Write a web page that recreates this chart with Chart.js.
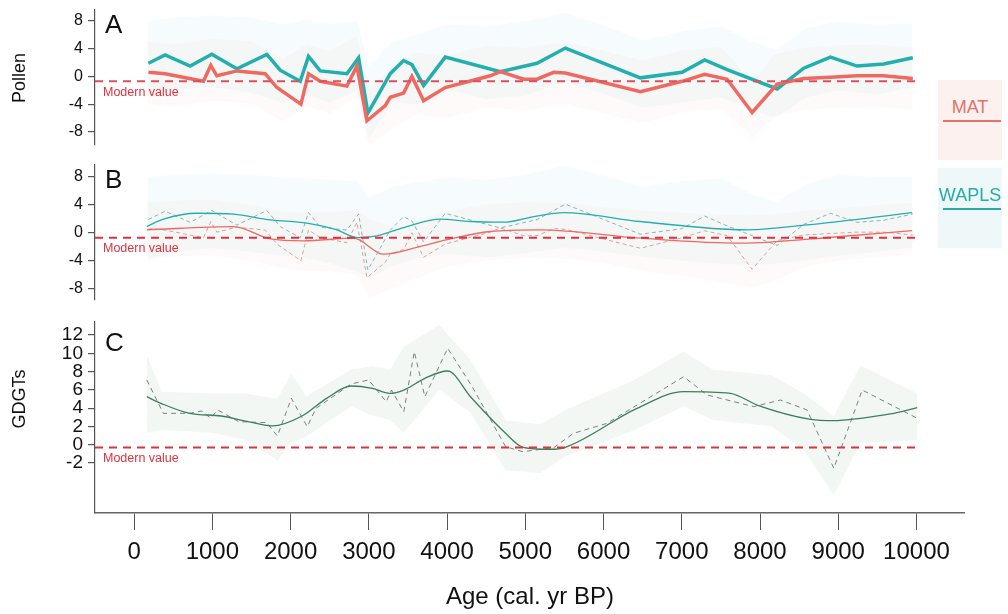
<!DOCTYPE html>
<html>
<head>
<meta charset="utf-8">
<script src="https://cdn.jsdelivr.net/npm/chart.js@4.4.1/dist/chart.umd.min.js"></script>
<style>
  body { margin: 0; background: #fff; width: 1008px; height: 614px; position: relative; overflow: hidden;
         font-family: "Liberation Sans", Arial, sans-serif; }
  .panel { position: absolute; left: 0; width: 965px; }
  .key { position: absolute; left: 938px; width: 64px; height: 80px; }
  .key .lbl { position: absolute; left: 0; right: 0; top: 17px; font-size: 18px; line-height: 20px; text-align: center; }
  .key .bar { position: absolute; left: 5px; right: 1px; top: 40px; height: 1.5px; }
</style>
</head>
<body>
<div class="panel" style="top:0;height:150px"><canvas id="chartA"></canvas></div>
<div class="panel" style="top:155px;height:150px"><canvas id="chartB"></canvas></div>
<div class="panel" style="top:310px;height:304px"><canvas id="chartC"></canvas></div>

<div class="key" style="top:80px;background:#fcf1ef;color:#e2726b">
  <div class="lbl">MAT</div><div class="bar" style="background:#e2726b"></div>
</div>
<div class="key" style="top:168px;background:#eff8f9;color:#27aaa8">
  <div class="lbl">WAPLS</div><div class="bar" style="background:#27aaa8"></div>
</div>

<script>
// x axis (age, cal. yr BP)
const xTicks = [0, 1000, 2000, 3000, 4000, 5000, 6000, 7000, 8000, 9000, 10000];

// Panel A - pollen reconstructions (raw)
const waplsAges = [183, 396, 716, 993, 1313, 1697, 1867, 2123, 2229, 2379, 2720, 2869, 2988, 3274, 3444, 3551,
                   3700, 3977, 4680, 5150, 5512, 6471, 7004, 7293, 7579, 8219, 8559, 8900, 9241, 9582, 9953];
const waplsVals = [1.9, 3.1, 1.5, 3.2, 1.1, 3.2, 0.9, -0.7, 2.9, 0.8, 0.4, 2.7, -5.3, 0.4, 2.3, 1.7,
                   -1.3, 2.8, 0.7, 1.9, 4.1, -0.2, 0.6, 2.4, 1.0, -1.8, 1.2, 2.8, 1.5, 1.8, 2.7];
const matAges = [183, 396, 886, 980, 1057, 1313, 1675, 1825, 2132, 2229, 2379, 2720, 2848, 2976, 3210, 3274,
                 3444, 3551, 3700, 3977, 4552, 4680, 4979, 5150, 5362, 5512, 6471, 7004, 7293, 7579, 7899,
                 8219, 8559, 8900, 9241, 9582, 9953];
const matVals = [0.6, 0.4, -0.7, 1.6, 0.1, 0.8, 0.4, -1.6, -4.0, 0.4, -0.7, -1.4, 1.5, -6.4, -4.2, -3.0,
                 -2.4, 0.0, -3.5, -1.6, 0.1, 0.7, -0.4, -0.4, 0.6, 0.5, -2.2, -0.7, 0.3, -0.4, -5.2,
                 -1.1, -0.3, -0.1, 0.1, 0.1, -0.3];

// uncertainty bands, panels A and B
const bandAges = [170, 500, 1000, 1500, 1900, 2200, 2500, 2850, 3000, 3300, 3600, 4000, 4500,
                  5000, 5500, 6000, 6500, 7000, 7500, 7900, 8200, 8600, 9000, 9500, 9950];
const waplsHiA = [8.0, 8.5, 8.8, 8.5, 7.5, 8.2, 7.6, 8.0, 1.5, 5.0, 6.0, 7.5, 7.2,
                  8.0, 9.2, 7.4, 5.2, 6.5, 7.2, 5.0, 3.9, 7.0, 7.9, 7.5, 7.7];
const waplsLoA = [-2.8, -2.0, -1.5, -2.4, -3.8, -2.6, -3.8, -2.0, -9.0, -3.7, -4.0, -1.8, -3.3,
                  -2.8, -0.8, -2.5, -4.5, -3.8, -3.0, -4.8, -6.0, -3.0, -2.0, -2.6, -1.6];
const matHiA = [5.1, 4.6, 5.5, 5.1, 2.5, 4.7, 3.6, 6.0, -1.8, 1.5, 3.5, 3.0, 4.5,
                4.1, 5.0, 3.7, 2.3, 3.8, 4.3, -0.7, 3.3, 4.2, 4.5, 4.6, 4.2];
const matLoA = [-3.9, -4.4, -3.5, -3.9, -6.5, -4.3, -5.4, -3.0, -10.0, -7.5, -5.5, -6.0, -4.5,
                -4.9, -4.0, -5.3, -6.7, -5.2, -4.7, -8.8, -5.7, -4.8, -4.5, -4.4, -4.8];

// Panel B - smoothed pollen reconstructions
const waplsSmoothAges = [162, 375, 801, 1270, 1739, 2208, 2592, 2848, 3103, 3487, 3913, 4297, 4723, 5107,
                         5490, 6471, 7835, 8602, 9945];
const waplsSmoothVals = [0.9, 1.95, 2.8, 2.67, 1.86, 1.38, 0.43, -0.67, -0.43, 0.9, 1.95, 1.62, 1.52, 2.33,
                         2.9, 1.62, 0.43, 1.14, 2.9];
const matSmoothAges = [162, 1270, 1739, 2165, 2805, 3188, 3657, 4041, 4552, 5192, 6471, 7750, 9028, 9945];
const matSmoothVals = [0.43, 0.9, -0.86, -1.14, -0.76, -3.05, -1.95, -0.86, 0.19, 0.43, -0.76, -1.48, -0.52, 0.33];
const waplsHiB = [8.0, 8.3, 8.5, 8.3, 7.9, 7.8, 7.6, 7.4, 5.0, 6.6, 7.2, 8.0, 7.6,
                  8.3, 9.6, 8.2, 6.6, 7.4, 7.8, 5.5, 4.4, 7.0, 8.3, 8.0, 8.0];
const waplsLoB = [-4.1, -2.7, -2.2, -2.7, -3.3, -3.6, -4.3, -5.6, -6.5, -4.7, -3.7, -3.0, -3.5,
                  -2.9, -2.1, -2.7, -3.4, -4.0, -4.4, -4.6, -4.4, -3.9, -3.3, -2.7, -2.1];
const matHiB = [4.4, 4.6, 4.8, 4.0, 3.0, 2.9, 3.0, 3.2, 2.0, 1.0, 1.8, 3.1, 4.1,
                4.4, 4.3, 3.7, 3.2, 2.9, 2.6, 2.5, 2.7, 3.2, 3.5, 4.0, 4.3];
const matLoB = [-3.6, -3.4, -3.2, -4.0, -5.0, -5.5, -5.5, -6.0, -9.3, -8.0, -6.5, -4.9, -3.9,
                -3.6, -3.7, -4.3, -5.5, -6.2, -7.0, -7.9, -6.8, -4.8, -4.0, -3.5, -3.1];

// Panel C - GDGTs
const gdgtAges = [162, 350, 710, 1113, 1427, 1765, 2146, 2460, 2774, 3043, 3268, 3447, 3716, 4008, 4299,
                  4748, 4972, 5320, 5512, 6428, 7024, 7621, 7963, 8645, 8943, 9284, 9668, 10009];
const gdgtSmooth = [5.25, 4.5, 3.43, 3.14, 2.59, 2.05, 3.14, 5.07, 6.42, 6.17, 5.62, 5.98, 7.26, 8.06, 5.25,
                    1.25, -0.28, -0.5, -0.28, 3.98, 5.8, 5.62, 4.34, 2.78, 2.63, 2.89, 3.36, 4.05];
const gdgtRawAges = [162, 373, 710, 867, 978, 1068, 1338, 1697, 1831, 2010, 2212, 2325, 2774, 2998, 3223,
                     3289, 3447, 3581, 3716, 4008, 4321, 4748, 4972, 5192, 5362, 5618, 6045, 7024, 7323,
                     7920, 8261, 8602, 8943, 9306, 10009];
const gdgtRaw = [7.08, 3.43, 3.43, 3.69, 2.89, 3.8, 2.52, 2.41, 0.95, 5.07, 1.97, 3.98, 6.64, 7.08, 4.7,
                 5.98, 3.61, 10.17, 5.25, 10.55, 6.35, -0.22, -0.77, -0.5, -0.33, 1.25, 2.34, 7.44, 5.44,
                 4.16, 4.89, 3.8, -2.58, 5.98, 2.89];
const gdgtBandAges = [162, 350, 1000, 1427, 1831, 2010, 2200, 2774, 3043, 3268, 3447, 3900, 4299, 4748,
                      5192, 5512, 6400, 7024, 7400, 8150, 8560, 8943, 9284, 10009];
const gdgtHi = [9.8, 5.8, 5.6, 5.6, 5.0, 7.8, 5.3, 8.2, 8.6, 8.2, 10.7, 13.1, 9.3, 2.7,
                2.2, 3.8, 7.1, 10.2, 8.2, 7.6, 5.6, 3.1, 8.7, 5.6];
const gdgtLo = [1.3, 1.6, 1.3, 0.5, -1.7, 0.2, 0.9, 4.2, 3.2, 2.7, 1.3, 6.0, 3.5, -2.8,
                -3.1, -1.3, 1.6, 4.2, 2.7, 2.0, -0.6, -5.5, 0.2, 0.5];

// modern values
const modernPollen = -0.7;
const modernGdgt = -0.3;
const modernSpan = [-500, 10000];

const RED = '#ee6a61', TEAL = '#22afae', GREEN = '#3d7f5c', MODERN = '#e0313f';
const FONT = '"Liberation Sans", Arial, sans-serif';

const pts = (xs, ys) => xs.map((x, i) => ({ x: x, y: ys[i] }));

function line(xs, ys, color, width, extra) {
  return Object.assign({ data: pts(xs, ys), borderColor: color, borderWidth: width,
    pointRadius: 0, fill: false, tension: 0, order: 1 }, extra || {});
}
function band(xs, hi, lo, color) {
  return [
    { data: pts(xs, hi), borderWidth: 0, pointRadius: 0, fill: '+1', backgroundColor: color, order: 5 },
    { data: pts(xs, lo), borderWidth: 0, pointRadius: 0, fill: false, order: 5 }
  ];
}
function modernLine(v, color) {
  return line(modernSpan, [v, v], color, 2, { borderDash: [8, 6], order: 0 });
}

function yAxis(min, max, ticks, labelled, size) {
  return {
    min: min, max: max,
    // fixed width, and no extra room for the end labels so the plot box stays where it is put
    afterFit: s => { s.width = 95; s.paddingTop = 0; s.paddingBottom = 0; },
    afterBuildTicks: s => { s.ticks = ticks.map(v => ({ value: v })); },
    border: { color: '#555', width: 1.2 },
    grid: { drawOnChartArea: false, tickLength: 7, color: '#555', lineWidth: 1.2 },
    ticks: { color: '#111', font: { size: size, family: FONT }, padding: 5,
             callback: v => labelled.includes(v) ? String(v) : '' }
  };
}
function xAxis(show) {
  const ax = { type: 'linear', min: -500, max: 10620, display: show };
  if (!show) return ax;
  return Object.assign(ax, {
    afterBuildTicks: s => { s.ticks = xTicks.map(v => ({ value: v })); },
    afterFit: s => { s.height = 101; s.paddingLeft = 0; s.paddingRight = 0; },
    border: { color: '#666', width: 1.5 },
    grid: { drawOnChartArea: false, tickLength: 17, color: '#555' },
    ticks: { color: '#111', font: { size: 24, family: FONT },
             padding: 8, maxRotation: 0, autoSkip: false, callback: v => String(v) },
    title: { display: true, text: 'Age (cal. yr BP)', color: '#111',
             font: { size: 24, family: FONT }, padding: { bottom: 2, top: 0 } }
  });
}

// panel letter, "Modern value" note and rotated axis title
const notes = {
  id: 'notes',
  afterDraw(chart, args, o) {
    const ctx = chart.ctx, a = chart.chartArea, y = chart.scales.y;
    ctx.save();
    ctx.fillStyle = '#111';
    ctx.font = '26px ' + FONT;
    ctx.textBaseline = 'alphabetic';
    ctx.fillText(o.letter, a.left + 10, a.top + o.letterDrop);
    ctx.fillStyle = MODERN;
    ctx.font = '12.5px ' + FONT;
    ctx.fillText('Modern value', a.left + 8, y.getPixelForValue(o.modern) + 14.5);
    if (o.title) {
      ctx.fillStyle = '#111';
      ctx.font = '18px ' + FONT;
      ctx.translate(20, o.titleY - chart.canvas.getBoundingClientRect().top);
      ctx.rotate(-Math.PI / 2);
      ctx.textAlign = 'center';
      ctx.textBaseline = 'middle';
      ctx.fillText(o.title, 0, 0);
    }
    ctx.restore();
  }
};

function makeChart(id, datasets, y, showX, pad, note) {
  return new Chart(document.getElementById(id), {
    type: 'line',
    data: { datasets: datasets },
    options: {
      responsive: true,
      maintainAspectRatio: false,
      animation: false,
      events: [],
      layout: { padding: pad },
      plugins: { legend: { display: false }, tooltip: { enabled: false }, notes: note },
      scales: { x: xAxis(showX), y: y }
    },
    plugins: [notes]
  });
}

const pollenTicks = [-8, -6, -4, -2, 0, 2, 4, 6, 8];
const pollenLabels = [-8, -4, 0, 4, 8];

makeChart('chartA', [
  modernLine(modernPollen, '#d9505f'),
  line(matAges, matVals, RED, 3.5),
  line(waplsAges, waplsVals, TEAL, 3.5),
  ...band(bandAges, matHiA, matLoA, 'rgba(245,170,160,0.06)'),
  ...band(bandAges, waplsHiA, waplsLoA, 'rgba(185,228,235,0.12)')
], yAxis(-9.9, 9.6, pollenTicks, pollenLabels, 16), false,
   { top: 10, bottom: 5, left: 0, right: 0 },
   { letter: 'A', letterDrop: 23, modern: modernPollen, title: 'Pollen', titleY: 78 });

makeChart('chartB', [
  modernLine(modernPollen, MODERN),
  line(matSmoothAges, matSmoothVals, RED, 1.3, { tension: 0.4, cubicInterpolationMode: 'monotone' }),
  line(waplsSmoothAges, waplsSmoothVals, TEAL, 1.3, { tension: 0.4, cubicInterpolationMode: 'monotone' }),
  line(matAges, matVals, 'rgba(200,125,118,0.7)', 1, { borderDash: [4, 3], order: 2 }),
  line(waplsAges, waplsVals, 'rgba(95,150,150,0.7)', 1, { borderDash: [4, 3], order: 2 }),
  ...band(bandAges, matHiB, matLoB, 'rgba(245,170,160,0.06)'),
  ...band(bandAges, waplsHiB, waplsLoB, 'rgba(185,228,235,0.12)')
], yAxis(-9.6, 9.7, pollenTicks, pollenLabels, 16), false,
   { top: 10, bottom: 5, left: 0, right: 0 },
   { letter: 'B', letterDrop: 23, modern: modernPollen });

const gdgtTicks = [-2, 0, 2, 4, 6, 8, 10, 12];

makeChart('chartC', [
  modernLine(modernGdgt, MODERN),
  line(gdgtAges, gdgtSmooth, GREEN, 1.3, { tension: 0.3, cubicInterpolationMode: 'monotone' }),
  line(gdgtRawAges, gdgtRaw, 'rgba(90,100,95,0.8)', 1, { borderDash: [5, 4], order: 2 }),
  ...band(gdgtBandAges, gdgtHi, gdgtLo, 'rgba(200,220,208,0.24)')
], yAxis(-7.47, 13.42, gdgtTicks, gdgtTicks, 19), true,
   { top: 12, bottom: 0, left: 0, right: 0 },
   { letter: 'C', letterDrop: 29, modern: modernGdgt, title: 'GDGTs', titleY: 399 });
</script>
</body>
</html>
